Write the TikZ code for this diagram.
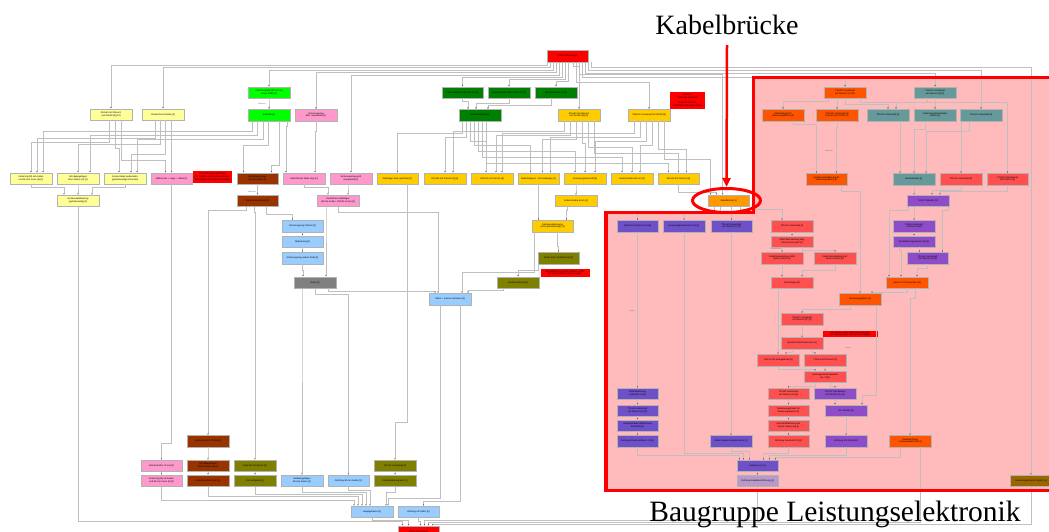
\documentclass[tikz,border=0pt]{standalone}
\usepackage{fontspec}
\setmainfont{Liberation Serif}
\newfontfamily\knotenschrift{Liberation Sans}
\usetikzlibrary{arrows.meta}
\definecolor{hellgelb}{HTML}{FFFF99}
\definecolor{goldgelb}{HTML}{FFCC00}
\definecolor{hellgruen}{HTML}{00FF00}
\definecolor{dunkelgruen}{HTML}{008000}
\definecolor{rosa}{HTML}{FF99CC}
\definecolor{braun}{HTML}{993300}
\definecolor{hellblau}{HTML}{99CCFF}
\definecolor{grau}{HTML}{808080}
\definecolor{oliv}{HTML}{808000}
\definecolor{rotorange}{HTML}{FF5500}
\definecolor{kabelorange}{HTML}{FF9900}
\definecolor{petrol}{HTML}{669999}
\definecolor{hellrot}{HTML}{FF4F4F}
\definecolor{violettA}{HTML}{7050C8}
\definecolor{violettB}{HTML}{8E4CC8}
\definecolor{mauve}{HTML}{B79ACB}
\definecolor{ocker}{HTML}{996600}
\definecolor{signalrot}{HTML}{FF0000}
\definecolor{bgrosa}{HTML}{FFBBBB}
\tikzset{
  kasten/.style={draw=black!30, line width=0.3pt, minimum width=41.6, minimum height=11.5,
    inner sep=0.3, align=center, font=\knotenschrift\fontsize{2.3}{2.7}\selectfont},
  gelb/.style={kasten, fill=hellgelb},
  gold/.style={kasten, fill=goldgelb},
  gruen/.style={kasten, fill=hellgruen},
  dgruen/.style={kasten, fill=dunkelgruen},
  rosa/.style={kasten, fill=rosa},
  braun/.style={kasten, fill=braun},
  blau/.style={kasten, fill=hellblau},
  grau/.style={kasten, fill=grau},
  oliv/.style={kasten, fill=oliv},
  rorange/.style={kasten, fill=rotorange},
  korange/.style={kasten, fill=kabelorange},
  petrol/.style={kasten, fill=petrol},
  hrot/.style={kasten, fill=hellrot},
  violA/.style={kasten, fill=violettA},
  violB/.style={kasten, fill=violettB},
  mauve/.style={kasten, fill=mauve},
  ocker/.style={kasten, fill=ocker},
  signal/.style={kasten, fill=signalrot},
  hinweis/.style={kasten, fill=signalrot, draw=none, minimum width=0, minimum height=0},
  etikett/.style={inner sep=0.2, text=black!60, font=\knotenschrift\fontsize{1.8}{2}\selectfont},
  kante/.style={draw=black!25, line width=0.55pt, -{Latex[length=1.6pt,width=1.4pt,color=black!65]}},
  titel/.style={inner sep=0, font=\fontsize{28}{32}\selectfont},
}

\begin{document}
\begin{tikzpicture}[x=1pt,y=-1pt]
  \useasboundingbox (0,0) rectangle (1049,532);
  \fill[white] (0,0) rectangle (1049,532);
  % Flaeche der Baugruppe
  \fill[bgrosa] (606,212.5) -- (753.5,212.5) -- (753.5,77.5) -- (1053,77.5)
    -- (1053,490.5) -- (606,490.5) -- cycle;

  % Start und Getriebeseite
  \node[signal] (start) at (567.5,56) {START Demontage};
  \node[gelb] (y1) at (111,114.5) {E10x40 mit Flansch\\und Schaft (8) [10]};
  \node[gelb] (y2) at (163,114.5) {Staubschutzscheibe [1]};
  \node[gelb] (y3) at (31,178.5) {Sinterring (M) mit Außen\\und 38 mm Innen (8) [1]};
  \node[gelb] (y4) at (78,178.5) {Schrägkugellager\\8mm Außen (8) [1]};
  \node[gelb] (y5) at (125,178.5) {Kreisscheibe Außenleiter\\(getriebeseitig) Rotorseite};
  \node[gelb] (y6) at (78,200.75) {Gehäuseabdeckung\\(getriebeseitig) [1]};
  \node[rosa] (p1) at (171.5,178.5) {Differenzial + Lager + Welle [1]};
  \node[hinweis, minimum width=39, minimum height=12] (n1) at (212.5,177)
    {Die Außenlager verbleiben\\im Getriebe und Gehäusedeckel,\\Demontage auch getrennt möglich};
  \node[braun] (b1) at (257.5,178.5) {Befestigungslager\\62 mm Außen [2]};
  \node[braun] (b2) at (257.5,200.75) {Distanzplattenkanal [1]};
  \node[gruen] (g1) at (269,92.5) {Zwischenplatte (4F) 16 mit\\Innen DWR [2]};
  \node[gruen] (g2) at (269,115) {Getriebe [1]};
  \node[rosa] (p2) at (316,115) {Sicherungsring\\Abtr. Hauptwelle [1]};
  \node[rosa] (p3) at (304,178.5) {Abdichtende Welle lang [1]};
  \node[rosa] (p4) at (351,178.5) {Sicherungsring groß\\Hauptwelle [1]};
  \node[rosa] (p5) at (338,200.75) {Gedichtetes Wälzlager\\(60mm Außen, 3R1/40 Innen) [1]};

  % Gehaeusedeckel
  \node[dgruen] (d1) at (462.5,92.5) {Abstandsplatte B16 links 4.9 [2]};
  \node[dgruen] (d2) at (509,92.5) {Abstandsplatte B16 rechts 4.9 [2]};
  \node[dgruen] (d3) at (556,92.5) {Abstandsplatte L3 [1]};
  \node[dgruen] (d4) at (480,115) {Getriebedeckel [1]};
  \node[gold] (o8) at (579,115) {E10x40 mit Flansch\\und Schaft (8) [11]};
  \node[gold] (o9) at (649,115) {T45x35 Linsenkopf mit Schaft [8]};
  \node[hinweis, minimum width=35, minimum height=17.5] (n2) at (687.5,100.3)
    {Hinweis:\\Schraube einbauen\\ \\Gewinde zerstört,\\zusätzliche Schrauben lösen};
  \node[gold] (o1) at (397.5,178.5) {Wälzlager 8mm gedichtet [1]};
  \node[gold] (o2) at (445,178.5) {E10x35 mit Flansch [1] [8]};
  \node[gold] (o3) at (492,178.5) {E10x20 mit Flansch [8]};
  \node[gold] (o4) at (538.5,178.5) {Abdeckkappe f. Schraubkappe [1]};
  \node[gold] (o5) at (585,178.5) {Druckausgleichventil [8]};
  \node[gold] (o6) at (632,178.5) {Anlaufscheibe 68 mm [1]};
  \node[gold] (o7) at (678.5,178.5) {E10x16 mit Flansch [8]};
  \node[gold] (o10) at (576,200.75) {Federscheibe 8 mm [1]};
  \node[gold] (o11) at (552.5,226) {Gehäuseabdeckung\\(nicht getriebeseitig) [1]};

  % Rotor und Stator
  \node[blau] (l1) at (302.5,226) {Sicherungsring 100mm [1]};
  \node[blau] (l2) at (302.5,241.5) {Abdeckring [1]};
  \node[blau] (l3) at (302.5,258) {Sicherungsring außen Ende [1]};
  \node[grau] (gr) at (315,282.5) {Rotor [1]};
  \node[blau] (l4) at (450,299) {Stator + inneres Gehäuse [1]};
  \node[oliv] (v1) at (558.5,258) {Hinter Gehl. Zylinderkopf [1]};
  \node[hinweis, minimum width=49, minimum height=7.5] (n3) at (565,273)
    {Signalkabel von Motor müssen vorher\\im Steckverbinder gelöst werden};
  \node[oliv] (v2) at (518,282.5) {Sensorverbinder [1]};

  % untere Reihe
  \node[rosa] (p6) at (161.5,465.75) {Anlaufscheibe 70 mm [1]};
  \node[rosa] (p7) at (161.5,480.75) {Sinterring (M) mit Außen\\und 38 mm Innen (8) [1]};
  \node[braun] (b3) at (208,441) {Zahnrad 140/27 Ritzel [1]};
  \node[braun] (b4) at (208,465.75) {Schrägkugellager\\80mm Außen (8) [1]};
  \node[braun] (b5) at (208,480.75) {Anlaufscheibe 80mm [1]};
  \node[oliv] (v3) at (255,465.75) {E10x16 mit Flansch [2]};
  \node[oliv] (v4) at (255,480.75) {Drehzahlgeber [1]};
  \node[blau] (l5) at (302,480.75) {Radialkugellager\\68 mm Außen [1]};
  \node[blau] (l6) at (348.5,480.75) {Dichtring 80 mm Außen [1]};
  \node[oliv] (v5) at (395,465.75) {T37x20 Linsenkopf [2]};
  \node[oliv] (v6) at (395,480.75) {Kühlmittelleitung kurz [1]};
  \node[blau] (l7) at (372,511.75) {Hauptgehäuse [1]};
  \node[blau] (l8) at (418.5,511.75) {Kühlung mit Stator [2]};
  \node[signal] (ende) at (418.5,531.5) {ENDE Demontage};

  % Baugruppe Leistungselektronik
  \node[korange] (kb) at (728.5,200.75) {Kabelbrücke [1]};
  \node[rorange] (r1) at (845,92.5) {T10x15 Linsenkopf\\mit Flansch (4) [10]};
  \node[petrol] (t1) at (935,92.5) {T10x15 Linsenkopf\\mit Flansch (8) [1]};
  \node[rorange] (r2) at (783,115) {Abdeckkappe für\\Steuerungsplatine [1]};
  \node[rorange] (r3) at (837,115) {T10x10 Linsenkopf mit\\Flansch und Schaft (4)};
  \node[petrol] (t2) at (888,115) {T40x10 Linsenkopf [2]};
  \node[petrol] (t3) at (935,115) {Kabel Hauptstromkabel\\Platine [1]};
  \node[petrol] (t4) at (981,115) {T10x10 Linsenkopf [2]};
  \node[rorange] (r4) at (826.5,179) {Kondensatorhalterung für\\Steuerungsplatine [1]};
  \node[petrol] (t5) at (914,179) {Batteriekabel [1]};
  \node[hrot] (h1) at (961,179) {T25x10 Linsenkopf [2]};
  \node[hrot] (h2) at (1007.5,179) {T10x16 Zylinderkopf\\mit Flansch [4]};
  \node[violB] (u1) at (928,200.75) {DC/DC Wandler [1]};
  \node[violA] (a1) at (637.5,226) {E10x16 mit Flansch (4) [8]};
  \node[violA] (a2) at (684,226) {Druckausgleichelement (2) [1]};
  \node[violA] (a3) at (731.5,226) {T10x10 Linsenkopf\\mit Flansch (2) [2]};
  \node[hrot] (h3) at (792,226) {T25x20 Linsenkopf [2]};
  \node[hrot] (h4) at (792,241.5) {Kabel Bremsleitung lang\\schwarze Kontakt [1]};
  \node[hrot] (h5) at (782,258) {Kabel Bremsleitung mittel\\gelbe Kontakt [1]};
  \node[hrot] (h6) at (835,258) {Kabel Bremsleitung kurz\\blaue Kontakt [1]};
  \node[hrot] (h7) at (792,282.5) {Gummilager [4]};
  \node[rorange] (r5) at (860,299) {Steuerungsplatine [1]};
  \node[violB] (u2) at (914,226) {T30x6 Linsenkopf\\mit Flansch [8]};
  \node[violB] (u3) at (914,241.5) {Kontaktierungselement (2) [4]};
  \node[violB] (u4) at (927.5,258) {T10x10 Linsenkopf\\mit Flansch (E) [1]};
  \node[rorange] (r6) at (907,282.5) {Sensor L4 (Temperatur) [1]};
  \node[hrot] (h8) at (802,319) {T10x10 Linsenkopf\\mit Flansch (G) [4]};
  \node[hinweis, minimum width=55, minimum height=6.7] (n4) at (850.5,334)
    {Die Spulen dürfen nicht gelöst werden,\\um Flachkontakte nicht zu beschädigen};
  \node[hrot] (h9) at (802,343.25) {Spezial Flachkondensator [1]};
  \node[hrot] (h10) at (778,360) {T10x12 mit Senkgewinde [8]};
  \node[hrot] (h11) at (825,360) {T10x16 mit Flansch [4]};
  \node[hrot] (h12) at (825,376.75) {Leistungselektronikplatine\\(ca. 2) [1]};
  \node[violA] (a4) at (637.5,393.75) {Kühlmittelleitung\\unterhalb 4.8 [1]};
  \node[violA] (a5) at (637.5,410.5) {T10x10 Linsenkopf\\mit Flansch (G) [8]};
  \node[violA] (a6) at (637.5,425.5) {Aluminiumblech Abdeckung\\Kühlmittel [2]};
  \node[violA] (a7) at (637.5,441) {Dichtung Aluminiumblech 4.8 [2]};
  \node[hrot] (h13) at (788.5,393.75) {T10x10 Linsenkopf\\mit Flansch (G) [8]};
  \node[violB] (u5) at (835,393.75) {T25x10 Zylinderkopf\\mit Flansch (G) [8]};
  \node[hrot] (h14) at (788.5,410.5) {Aluminiumgehäuse für\\Steuerungsplatine [1]};
  \node[violB] (u6) at (846,410.5) {SiC-Module [1]};
  \node[hrot] (h15) at (788.5,425.5) {Kunststoffhalterung der\\Spulen Steuerung [1]};
  \node[hrot] (h16) at (788.5,441) {Dichtung Kunststoff 4.8 [1]};
  \node[violB] (u7) at (846,441) {Dichtung SiC-Modul [1]};
  \node[violA] (a8) at (731,441) {Kabel Hauptstromkabel 6mm [1]};
  \node[rorange] (r7) at (910,441) {Deckeldichtung\\Leistungselektronik [1]};
  \node[violA] (a9) at (757.5,465.75) {Gehäuse (1) [1]};
  \node[mauve] (m1) at (757.5,480.75) {Dichtung Kabeldurchführung [1]};
  \node[ocker] (k1) at (1031,480.75) {Druckausgleichventil (groß) [1]};

  % Verbindungen
  \foreach \a/\sa/\d/\b/\sb in {
    start/-20/3/y1/0, start/-17/5.5/y2/0, start/-14/8/g1/0, start/-11/10.5/p2/0,
    start/-8/13/p4/0, start/-5/15.5/d1/0, start/-2/17.5/d2/0, start/1/19.5/d3/0,
    start/6/4/o8/0, start/9/20/o9/0, start/12/12/kb/-6, start/15/15/r1/0,
    start/18/11/t1/0, start/21/8/t4/0, start/24/5/k1/0,
    y1/-2/22/y3/0, y1/4/28/y5/-6, y1/10/40/p1/-6,
    y2/-8/18/y3/6, y2/-3/24/y4/0, y2/2/34/y5/6, y2/8.5/10/p1/0,
    g1/0/4/g2/0, g2/-17/10/y3/12, g2/-12/14/y4/12, g2/-6/18/y5/12,
    g2/-1/24/b1/-14, g2/10/44/b1/14, g2/18/5/p3/-18,
    p2/0/10/p3/11, p3/0/3/p5/-10, p4/-3/3/p5/10, p5/-12/4/gr/11, p5/0/6/l4/-12,
    b1/0/4/b2/0, b2/-11/4/b3/0, b2/-3/6/v3/0, b2/9/8/l1/-10,
    l1/0/2/l2/0, l2/0/2/l3/0, l3/0/6/gr/-12,
    gr/-13/4/l5/0, gr/0/6/l6/0, gr/13/3/l4/-15,
    d1/0/3/d4/-12, d2/0/5/d4/-4, d3/-5/7/d4/8,
    d4/-18/12/o1/0, d4/-14/16/o2/0, d4/-10/20/o3/-6, d4/-6/24/o4/-8,
    d4/-2/30/o5/-10, d4/2/36/o6/-10, d4/6/42/o7/-10,
    o8/-15/10/o2/8, o8/-9/14/o3/4, o8/-3/18/o4/4, o8/3/22/o5/0, o8/9/26/o6/0, o8/15/32/o7/0,
    o9/-15/12/o3/10, o9/-9/16/o4/12, o9/-3/20/o5/10, o9/3/24/o6/8, o9/9/28/o7/8, o9/15/38/kb/-18,
    o7/0/8/kb/-12, o5/-9/4/o10/0, o10/-9/4/o11/14, o4/0/8/o11/-14,
    o11/5/14/v1/0, o11/-18/40/l4/12, v1/-20/6/v2/0, v2/-15/2/l4/18,
    l4/-10/193/l7/16, l4/10/196/l8/5, o1/10/238/v5/0,
    p1/0/259/p6/0, p6/0/1.5/p7/0, b3/0/10/b4/0, b4/0/1.5/b5/0,
    v3/0/1.5/v4/0, v5/0/1.5/v6/0,
    y3/0/2.5/y6/-14, y4/0/2.5/y6/0, y5/0/2.5/y6/14,
    p7/0/14/l7/-18, b5/0/10/l7/-14, v4/0/8/l7/-10, l5/0/6/l7/-6, l6/0/4/l7/-2, v6/0/6/l7/14,
    l7/0/3/ende/-10, l8/0/4/ende/2, y6/0/315/ende/-16,
    m1/0/33.5/ende/6, r7/10/75.5/ende/10, k1/0/37.5/ende/14}
    \draw[kante] ([xshift=\sa]\a.south) -- ++(0,\d) -| ([xshift=\sb]\b.north);

  \foreach \a/\sa/\d/\b/\sb in {
    r1/-17/3/r2/0, r1/-8/5/r3/0, r1/0/6/t2/0, r1/15/3.5/h2/0,
    t1/0/5/t3/0, t1/-8/4/t2/8, r2/10/3/r4/-10, r3/0/6/r4/10,
    t2/12/6/t5/-14, t3/-10/8/t5/0, t4/-20/4/h1/0, t4/-12/10/t5/12,
    t5/0/4/u1/-14, h1/0/5/u1/4, h2/0/6/u1/12,
    u1/-14/3/u2/0, u1/-20/4/r6/-18, u1/20/4/u4/15,
    u2/0/2/u3/0, u3/5/4/u4/-8, u3/-15/3/r6/-6, u4/0/4/r6/10,
    r6/0/4/r5/12, r4/15/6/r5/0, r6/8/10/r7/0,
    kb/-14/6/a1/0, kb/-8/4.5/a2/0, kb/3/5/a3/0, kb/12/3/h3/-10,
    h3/0/2/h4/0, h4/-10/3/h5/0, h4/10/3/h6/0, h5/0/6/h7/-10, h6/0/6/h7/10,
    h7/-14/60/h10/0, r5/-10/4/h8/0, h8/0/6/h9/0,
    h9/-10/3/h10/8, h9/10/3/h11/-10, h10/0/3/h12/-10, h11/0/2/h12/0,
    h12/-10/4/h13/0, h12/5/4/u5/0, r5/16/90/u6/16,
    h13/0/2/h14/0, h14/0/2/h15/0, h15/0/2/h16/0,
    u5/0/2/u6/-11, u6/0/6/u7/0,
    a1/0/150/a4/0, a4/0/2/a5/0, a5/0/2/a6/0, a6/0/2/a7/0, a3/0/50/a8/0,
    a2/0/221/a9/-14, a7/0/8/a9/-18, a8/0/4/a9/-8, h16/0/6/a9/6, u7/0/8/a9/12,
    r7/-10/10/a9/18, a9/0/1.5/m1/0}
    \draw[kante] ([xshift=\sa]\a.south) -- ++(0,\d) -| ([xshift=\sb]\b.north);

  % Beschriftungen an Kanten
  \node[etikett] (e1) at (262,103.5) {Abbauen};
  \node[etikett] (e2) at (632,311) {Lösen};
  \node[etikett] (e3) at (776,249) {Herausziehen};
  \node[etikett] (e4) at (829,151) {Abziehen};
  \node[etikett] (e5) at (848,348) {Lösen};
  \node[etikett] (e6) at (252,192) {Abziehen};

  % Umrandung und Hervorhebung
  \draw[signalrot, line width=3.5pt] (606,212.5) -- (753.5,212.5) -- (753.5,77.5) -- (1053,77.5)
    -- (1053,490.5) -- (606,490.5) -- cycle;
  \draw[signalrot, line width=3pt] (726.5,200.5) ellipse [x radius=34, y radius=12];
  \node[titel] (kabeltitel) at (727,25) {Kabelbrücke};
  \coordinate (ellipsenoben) at (726.5,187);
  \draw[signalrot, line width=2.5pt, -{Triangle[length=9pt,width=8pt]}] (kabeltitel.south) ++(0,10) -- (ellipsenoben);
  \node[titel, font=\fontsize{29.5}{34}\selectfont] (bgtitel) at (835,514.5) {Baugruppe Leistungselektronik};
\end{tikzpicture}
\end{document}
